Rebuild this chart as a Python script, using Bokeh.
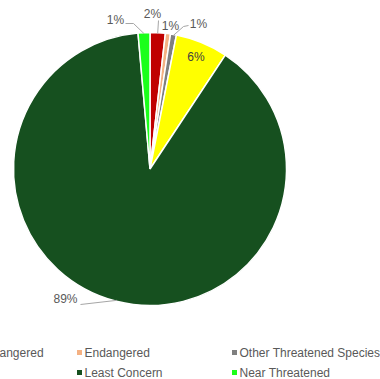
import math
from bokeh.plotting import figure
from bokeh.models import Range1d, ColumnDataSource
from bokeh.core.properties import value
from bokeh.embed import file_html
from bokeh.resources import INLINE

categories = ["Critically Endangered", "Endangered", "Other Threatened Species",
              "Vulnerable", "Least Concern", "Near Threatened"]
percent = [1.8, 0.6, 0.7, 6.2, 89.3, 1.4]
colors = ["#c00000", "#f4b183", "#7f7f7f", "#ffff00", "#16501f", "#1aff1a"]

W, H = 380, 379
OFF = 8
p = figure(width=W + OFF, height=H + OFF, output_backend="svg", toolbar_location=None,
           x_range=Range1d(-OFF, W), y_range=Range1d(0, H + OFF), min_border=0,
           outline_line_color=None, margin=(-8, 0, 0, -8))
p.axis.visible = False
p.grid.visible = False
p.background_fill_color = "white"

def Y(py):
    return H - py

cx, cy, r = 149.5, Y(168.5), 136.5
total = sum(percent)
starts, ends, mids = [], [], []
cum = 0.0
for v in percent:
    a0 = cum / total * 2 * math.pi
    cum += v
    a1 = cum / total * 2 * math.pi
    starts.append(math.pi / 2 - a0)
    ends.append(math.pi / 2 - a1)
    mids.append((a0 + a1) / 2)

src = ColumnDataSource(dict(start=starts, end=ends, color=colors))
p.wedge(x=cx, y=cy, radius=r, start_angle="start", end_angle="end",
        direction="clock", fill_color="color", line_color="white",
        line_width=1.5, source=src)

def edge(i, rr=r):
    t = mids[i]
    return cx + rr * math.sin(t), cy + rr * math.cos(t)

labels = [f"{round(v)}%" for v in percent]
label_color = "#595959"
leader_color = "#a6a6a6"
font = value("Liberation Sans")

# label placements (page px) and leader bend points
place = {
    5: ((115, 19), [(125, 23), (133, 23)]),
    0: ((152, 13), [(158, 20)]),
    1: ((170, 25), None),
    2: ((198, 23), [(188, 25), (183, 26)]),
    4: ((65, 298), [(80, 304)]),
}
for i, (pos, bends) in place.items():
    if bends:
        ex, ey = edge(i, r - 1)
        xs = [b[0] for b in bends] + [ex]
        ys = [Y(b[1]) for b in bends] + [ey]
        p.line(xs, ys, line_color=leader_color, line_width=1)
    p.text(x=[pos[0]], y=[Y(pos[1])], text=[labels[i]], text_font=font,
           text_font_size="12px", text_color=label_color,
           text_align="center", text_baseline="middle")

# inside label for Vulnerable
vx, vy = edge(3, r * 0.885)
p.text(x=[vx], y=[vy], text=[labels[3]], text_font=font, text_font_size="12px",
       text_color="#404040", text_align="center", text_baseline="middle")

# legend
col_w, x0 = 155, -76
row_y = [352, 372]
for i, (name, c) in enumerate(zip(categories, colors)):
    col, row = i % 3, i // 3
    mx = x0 + col_w * col
    my = Y(row_y[row])
    p.scatter([mx], [my], marker="square", size=5, fill_color=c, line_color=None)
    p.text(x=[mx + 5], y=[my], text=[name], text_font=font, text_font_size="12px",
           text_color=label_color, text_align="left", text_baseline="middle")

open("out.html", "w").write(file_html(p, INLINE))
